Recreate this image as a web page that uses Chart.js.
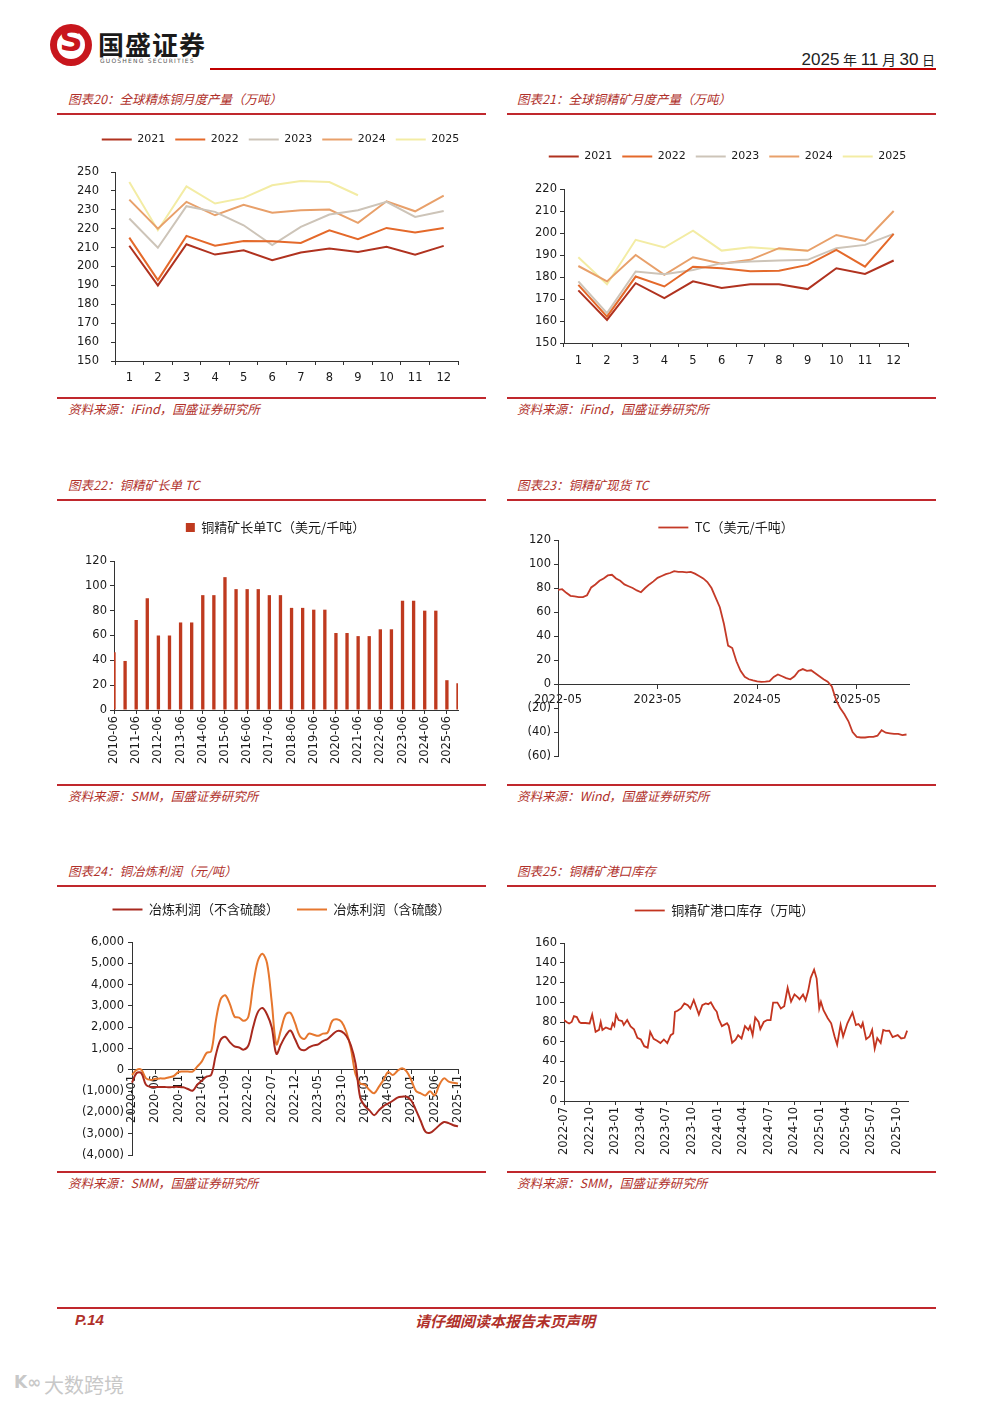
<!DOCTYPE html>
<html>
<head>
<meta charset="utf-8">
<script src="https://cdn.jsdelivr.net/npm/chart.js"></script>
<style>
  body { margin: 0; width: 992px; height: 1403px; position: relative; background: #fff; overflow: hidden; font-family: "Noto Sans CJK SC", sans-serif; }
  .abs { position: absolute; white-space: nowrap; }
  .title { font-style: italic; color: #b0302a; font-size: 12.5px; line-height: 17px; }
  .rule { position: absolute; height: 2px; background: #c0282d; }
  .box { position: absolute; }
</style>
</head>
<body>

<!-- header -->
<div class="abs" style="left:50px;top:24px;width:42px;height:42px;border-radius:50%;background:#c8161d;"></div>
<div class="abs" style="left:57px;top:31px;width:28px;height:28px;border-radius:50%;background:#fff;"></div>
<div class="abs" style="left:50px;top:21px;width:42px;text-align:center;font:bold 32px 'DejaVu Sans';color:#c8161d;">S</div>
<div class="abs" style="left:98px;top:27px;font-size:26px;font-weight:bold;color:#1a1a1a;letter-spacing:1px;line-height:34px;">国盛证券</div>
<div class="abs" style="left:100px;top:57px;font:6px 'DejaVu Sans';color:#555;letter-spacing:1.2px;">GUOSHENG SECURITIES</div>
<div class="abs" style="right:57px;top:47px;color:#222;line-height:22px;"><span style="font:17px 'Liberation Sans'">2025</span> <span style="font-size:14px">年</span> <span style="font:17px 'Liberation Sans'">11</span> <span style="font-size:14px">月</span> <span style="font:17px 'Liberation Sans'">30</span> <span style="font-size:13px">日</span></div>
<div class="rule" style="left:210px;top:68px;width:726px;background:#c00000;"></div>

<!-- row 1 -->
<div class="abs title" style="left:68px;top:90px;">图表20：全球精炼铜月度产量（万吨）</div>
<div class="abs title" style="left:517px;top:90px;">图表21：全球铜精矿月度产量（万吨）</div>
<div class="rule" style="left:57px;top:113px;width:429px;"></div>
<div class="rule" style="left:507px;top:113px;width:429px;"></div>
<div class="box" style="left:57px;top:124px;width:429px;height:268px;"><canvas id="c20"></canvas></div>
<div class="box" style="left:507px;top:141px;width:429px;height:234px;"><canvas id="c21"></canvas></div>
<div class="rule" style="left:57px;top:397px;width:429px;"></div>
<div class="rule" style="left:507px;top:397px;width:429px;"></div>
<div class="abs title" style="left:68px;top:400px;">资料来源：iFind，国盛证券研究所</div>
<div class="abs title" style="left:517px;top:400px;">资料来源：iFind，国盛证券研究所</div>

<!-- row 2 -->
<div class="abs title" style="left:68px;top:476px;">图表22：铜精矿长单 TC</div>
<div class="abs title" style="left:517px;top:476px;">图表23：铜精矿现货 TC</div>
<div class="rule" style="left:57px;top:499px;width:429px;"></div>
<div class="rule" style="left:507px;top:499px;width:429px;"></div>
<div class="box" style="left:57px;top:511px;width:429px;height:264px;"><canvas id="c22"></canvas></div>
<div class="box" style="left:507px;top:517px;width:429px;height:249px;"><canvas id="c23"></canvas></div>
<div class="rule" style="left:57px;top:784px;width:429px;"></div>
<div class="rule" style="left:507px;top:784px;width:429px;"></div>
<div class="abs title" style="left:68px;top:787px;">资料来源：SMM，国盛证券研究所</div>
<div class="abs title" style="left:517px;top:787px;">资料来源：Wind，国盛证券研究所</div>

<!-- row 3 -->
<div class="abs title" style="left:68px;top:862px;">图表24：铜冶炼利润（元/吨）</div>
<div class="abs title" style="left:517px;top:862px;">图表25：铜精矿港口库存</div>
<div class="rule" style="left:57px;top:885px;width:429px;"></div>
<div class="rule" style="left:507px;top:885px;width:429px;"></div>
<div class="box" style="left:57px;top:885px;width:429px;height:281px;"><canvas id="c24"></canvas></div>
<div class="box" style="left:507px;top:894px;width:429px;height:271px;"><canvas id="c25"></canvas></div>
<div class="rule" style="left:57px;top:1171px;width:429px;"></div>
<div class="rule" style="left:507px;top:1171px;width:429px;"></div>
<div class="abs title" style="left:68px;top:1174px;">资料来源：SMM，国盛证券研究所</div>
<div class="abs title" style="left:517px;top:1174px;">资料来源：SMM，国盛证券研究所</div>

<!-- footer -->
<div class="rule" style="left:57px;top:1307px;width:879px;"></div>
<div class="abs" style="left:75px;top:1311px;font:italic bold 15px 'Liberation Sans';color:#b0302a;">P.14</div>
<div class="abs" style="left:405px;top:1311px;width:200px;text-align:center;font-style:italic;font-weight:bold;font-size:15px;color:#b0302a;line-height:20px;">请仔细阅读本报告末页声明</div>
<div class="abs" style="left:14px;top:1372px;font:bold 17px 'DejaVu Sans';color:#c8c8c8;">K∞</div>
<div class="abs" style="left:44px;top:1370px;font-size:20px;color:#c8c8c8;">大数跨境</div>

<script>
// ---------- data ----------
const months = ['1', '2', '3', '4', '5', '6', '7', '8', '9', '10', '11', '12'];

// 图表20 全球精炼铜月度产量（万吨）
const refined2021 = [211, 190, 211.8, 206.3, 208.6, 203.3, 207.4, 209.5, 207.7, 210.4, 206.3, 210.9];
const refined2022 = [215.3, 192.8, 216.2, 211, 213.5, 213.4, 212.5, 219.2, 214.4, 220.4, 218, 220.4];
const refined2023 = [225.4, 209.9, 231.9, 228.9, 221.8, 211.3, 221, 227.5, 229.8, 234.2, 226.2, 229.4];
const refined2024 = [235.4, 220, 234.2, 227.1, 232.7, 228.5, 229.8, 230.1, 223.1, 234.5, 229.2, 237.5];
const refined2025 = [244.7, 219.2, 242.4, 233.3, 236.3, 243, 245.2, 244.7, 237.7, null, null, null];

// 图表21 全球铜精矿月度产量（万吨）
const conc2021 = [173.9, 160.5, 177.2, 170.4, 178, 175, 176.7, 176.7, 174.5, 184, 181.4, 187.5];
const conc2022 = [176.4, 162, 180.2, 175.7, 184.7, 184, 182.6, 182.8, 185.5, 192.3, 184.7, 199.6];
const conc2023 = [178, 163.6, 182.5, 181.3, 183.2, 186.3, 187, 187.5, 187.8, 193.1, 194.6, 199.6];
const conc2024 = [185, 178, 190, 181, 189, 186, 187.8, 193.1, 191.9, 199.1, 196.4, 210];
const conc2025 = [189, 176.7, 196.9, 193.4, 201.1, 192, 193.5, 192.6, 192, null, null, null];

// 图表22 铜精矿长单TC（美元/千吨）
const longTermDates = ['2010-06', '2010-12', '2011-06', '2011-12', '2012-06', '2012-12', '2013-06', '2013-12',
  '2014-06', '2014-12', '2015-06', '2015-12', '2016-06', '2016-12', '2017-06', '2017-12',
  '2018-06', '2018-12', '2019-06', '2019-12', '2020-06', '2020-12', '2021-06', '2021-12',
  '2022-06', '2022-12', '2023-06', '2023-12', '2024-06', '2024-12', '2025-06', '2025-12'];
const longTermTC = [46.5, 39.5, 72.5, 90, 60, 60, 70.5, 70.5, 92.5, 92.5, 107, 97.35, 97.35, 97.35, 92.5, 92.5,
  82.25, 82.25, 80.8, 80.8, 62, 62, 59.5, 59.5, 65, 65, 88, 88, 80, 80, 24, 21.5];

// 图表23 铜精矿现货TC（美元/千吨），半月一点，自2022-05起
const spotStart = '2022-05';
const spotTC = [
  78.5, 79, 76, 73.5, 73, 72.5, 72.5, 74,
  80.5, 83, 86, 88, 90.5, 91, 88, 86,
  83, 81.5, 80, 78, 76.5, 80, 83, 85.5,
  88.5, 90, 91.5, 92.5, 94, 93.5, 93.5, 93,
  93.5, 92, 90, 88, 85, 80, 72, 64,
  50, 32, 30, 19, 11, 6, 4, 3,
  2.2, 1.8, 2, 2.5, 6, 8, 6.5, 5,
  4, 6.5, 11, 12.5, 11, 11.5, 9, 6.5,
  4, 2, -2, -13, -20, -25, -31, -40,
  -44, -44.5, -44.5, -44, -44, -43, -38.5, -40.5,
  -41, -41.5, -41.5, -42.5, -42];
const spotTicks = ['2022-05', '2023-05', '2024-05', '2025-05'];

// 图表24 铜冶炼利润（元/吨），月度 2020-01 起
const profitStart = '2020-01';
const profitNoAcid = [
  -600, -150, -150, -700, -800, -800, -800, -800, -820, -800, -800, -820,
  -900, -980, -700, -500, -320, -240, 700, 1400, 1550, 1300, 1100, 1050,
  950, 1150, 2000, 2700, 2900, 2600, 2000, 750, 1200, 1600, 1850, 1450,
  1000, 920, 1050, 1150, 1200, 1350, 1450, 1650, 1820, 1800, 1600, 1150,
  300, -1300, -1700, -1900, -2130, -1900, -1700, -1580, -1450, -1300, -1260, -1260,
  -1450, -1900, -2400, -2900, -2950, -2800, -2600, -2450, -2500, -2600, -2650];
const profitAcid = [
  -240, 0, 0, -400, -470, -420, -400, -400, -350, -280, -100, -80,
  -80, -80, 150, 400, 790, 870, 2300, 3300, 3500, 3100, 2500, 2450,
  2300, 2500, 3950, 5100, 5450, 5000, 3200, 1200, 1900, 2600, 2680, 2200,
  1600, 1450, 1700, 1650, 1600, 1700, 1750, 2300, 2370, 2250, 1800, 1000,
  -200, -630, -700, -950, -1100, -800, -470, -100, -240, -50, 80, -80,
  -500, -1000, -1100, -1200, -1000, -1200, -700, -400, -550, -600, -640];

// 图表25 铜精矿港口库存（万吨）
const stockDates = ['2022-07-01', '2022-07-10', '2022-07-19', '2022-07-28', '2022-08-06', '2022-08-16', '2022-08-25',
  '2022-09-01', '2022-09-16', '2022-10-01', '2022-10-10', '2022-10-22', '2022-11-04', '2022-11-10', '2022-11-16',
  '2022-11-28', '2022-12-10', '2022-12-16', '2022-12-22', '2022-12-28',
  '2023-01-04', '2023-01-13', '2023-01-25', '2023-02-01', '2023-02-13', '2023-02-25', '2023-03-07', '2023-03-19',
  '2023-04-01', '2023-04-13', '2023-04-25', '2023-05-04', '2023-05-16', '2023-05-28', '2023-06-10', '2023-06-22',
  '2023-07-04', '2023-07-16', '2023-07-25', '2023-08-01', '2023-08-10', '2023-08-22', '2023-09-04', '2023-09-16',
  '2023-09-25', '2023-10-07', '2023-10-25', '2023-11-07', '2023-11-19', '2023-11-28', '2023-12-07', '2023-12-19',
  '2023-12-28',
  '2024-01-04', '2024-01-16', '2024-02-04', '2024-02-10', '2024-02-22', '2024-03-04', '2024-03-13', '2024-03-25',
  '2024-04-07', '2024-04-19', '2024-04-25', '2024-05-04', '2024-05-13', '2024-05-25', '2024-06-01', '2024-06-13',
  '2024-06-25', '2024-07-07', '2024-07-16', '2024-08-01', '2024-08-13', '2024-08-25', '2024-09-07', '2024-09-19',
  '2024-10-01', '2024-10-13', '2024-10-19', '2024-11-01', '2024-11-10', '2024-11-19', '2024-11-28', '2024-12-10',
  '2024-12-19', '2024-12-28',
  '2025-01-04', '2025-01-13', '2025-01-28', '2025-02-10', '2025-02-22', '2025-03-01', '2025-03-13', '2025-03-22',
  '2025-04-07', '2025-04-25', '2025-05-07', '2025-05-16', '2025-05-25', '2025-06-01', '2025-06-13', '2025-06-25',
  '2025-07-04', '2025-07-13', '2025-07-22', '2025-08-04', '2025-08-13', '2025-08-22', '2025-09-04', '2025-09-16',
  '2025-10-04', '2025-10-16', '2025-10-28', '2025-11-07'];
const stockValues = [82, 80, 78.5, 80, 86, 85, 80, 79, 79, 78.5, 87.5, 70, 72, 80, 72, 74.5, 73, 72.5, 78.7, 76,
  87.5, 82, 81, 77, 82, 75.5, 72.5, 64, 62.3, 55.5, 54, 70, 63, 61, 58.7, 62.3, 58.7, 66.7, 68.4, 90.3,
  91.4, 93.7, 98.8, 97, 93.7, 102.3, 87.5, 97, 98.8, 98, 100, 93.7, 90.3,
  83.5, 75.8, 78.7, 76, 59, 62, 66.7, 63.3, 75.8, 72, 76, 66.7, 84.6, 80, 72.8, 80, 82, 82, 99.6, 99.6,
  93.7, 96, 114.7, 100.6, 108, 105, 103, 107.9, 102, 111.3, 124.7, 133, 124, 93.7,
  100.4, 92, 83.8, 78.7, 65.3, 57, 77, 65.3, 78.7, 89.5, 77, 78, 74.5, 79, 62.6, 65.3, 72, 53, 63.7,
  58.7, 72, 71, 71.3, 64.6, 66.7, 63.3, 64, 71.3];

// ---------- helpers ----------
const TICK = { family: 'DejaVu Sans', size: 11.5 };
const LEG_NUM = { family: 'DejaVu Sans', size: 11 };
const LEG_CJK = { family: 'Noto Sans CJK SC', size: 13 };
const AXIS = '#333';
const TXT = '#1a1a1a';

Chart.defaults.animation = false;
Chart.defaults.maintainAspectRatio = false;
Chart.defaults.plugins.tooltip.enabled = false;
Chart.defaults.elements.point.radius = 0;

// months since a 'YYYY-MM' base, for a 'YYYY-MM-DD' date
function monthsFrom(base, date) {
  const [by, bm] = base.split('-').map(Number);
  const [y, m, d] = date.split('-').map(Number);
  return (y - by) * 12 + (m - bm) + (d - 1) / 30;
}
function monthLabel(base, offset) {
  const [by, bm] = base.split('-').map(Number);
  const t = by * 12 + (bm - 1) + Math.round(offset);
  return Math.floor(t / 12) + '-' + String(t % 12 + 1).padStart(2, '0');
}
function monthSeq(base, n) {
  const out = [];
  for (let i = 0; i < n; i++) out.push(monthLabel(base, i));
  return out;
}
function halfMonthSeq(base, n) {
  const out = [];
  for (let i = 0; i < n; i++) out.push(monthLabel(base, Math.floor(i / 2)) + (i % 2 ? '-16' : '-01'));
  return out;
}
function paren(v) {
  const s = Math.abs(v).toLocaleString('en-US');
  return v < 0 ? '(' + s + ')' : s;
}

// extra room below the legend, and a sideways nudge of the legend
function legendSpace(extra, dx) {
  return {
    id: 'legendSpace',
    beforeInit(chart) {
      const fit = chart.legend.fit;
      chart.legend.fit = function () {
        fit.bind(chart.legend)();
        this.height += extra;
      };
    },
    afterLayout(chart) {
      chart.legend.left += dx;
      chart.legend.right += dx;
    }
  };
}

function yAxis(min, max, step, width, pad, fmt) {
  return {
    min: min, max: max,
    ticks: { stepSize: step, font: TICK, color: TXT, padding: pad, callback: fmt || (v => v) },
    grid: { drawOnChartArea: false, tickLength: 4, color: AXIS },
    border: { color: AXIS },
    afterFit: s => { s.width = width; }
  };
}

function lineLegend(font, pad) {
  return {
    labels: { usePointStyle: true, pointStyle: 'line', pointStyleWidth: 30, font: font, color: TXT, padding: pad }
  };
}

function line(label, data, color, w) {
  return { label: label, data: data, borderColor: color, backgroundColor: color, borderWidth: w || 2, tension: 0, spanGaps: false };
}

const C21 = '#b0321f', C22 = '#e4692a', C23 = '#cdc4b8', C24 = '#e8a06a', C25 = '#f3eca4';

// ---------- 图表20 ----------
new Chart(document.getElementById('c20'), {
  type: 'line',
  data: {
    labels: months,
    datasets: [
      line('2021', refined2021, C21), line('2022', refined2022, C22), line('2023', refined2023, C23),
      line('2024', refined2024, C24), line('2025', refined2025, C25)
    ]
  },
  options: {
    layout: { padding: { right: 28 } },
    plugins: { legend: lineLegend(LEG_NUM, 10) },
    scales: {
      x: {
        offset: true,
        ticks: { font: TICK, color: TXT, padding: 6, maxRotation: 0 },
        grid: { offset: true, drawOnChartArea: false, tickLength: 4, color: AXIS },
        border: { color: AXIS },
        afterFit: s => { s.height = 31; }
      },
      y: yAxis(150, 250, 10, 58, 12)
    }
  },
  plugins: [legendSpace(17, 23)]
});

// ---------- 图表21 ----------
new Chart(document.getElementById('c21'), {
  type: 'line',
  data: {
    labels: months,
    datasets: [
      line('2021', conc2021, C21), line('2022', conc2022, C22), line('2023', conc2023, C23),
      line('2024', conc2024, C24), line('2025', conc2025, C25)
    ]
  },
  options: {
    layout: { padding: { right: 28 } },
    plugins: { legend: lineLegend(LEG_NUM, 10) },
    scales: {
      x: {
        offset: true,
        ticks: { font: TICK, color: TXT, padding: 7, maxRotation: 0 },
        grid: { offset: true, drawOnChartArea: false, tickLength: 4, color: AXIS },
        border: { color: AXIS },
        afterFit: s => { s.height = 32; }
      },
      y: yAxis(150, 220, 10, 57, 3)
    }
  },
  plugins: [legendSpace(17, 20)]
});

// ---------- 图表22 ----------
new Chart(document.getElementById('c22'), {
  type: 'bar',
  data: {
    labels: longTermDates,
    datasets: [{
      label: '铜精矿长单TC（美元/千吨）',
      data: longTermTC,
      backgroundColor: '#bf3a1f',
      borderWidth: 0,
      barPercentage: 0.3,
      categoryPercentage: 1
    }]
  },
  options: {
    layout: { padding: { right: 28 } },
    plugins: { legend: { labels: { boxWidth: 9, boxHeight: 9, font: LEG_CJK, color: TXT, padding: 10 } } },
    scales: {
      x: {
        offset: false,
        ticks: {
          font: TICK, color: TXT, padding: 2, autoSkip: false, minRotation: 90, maxRotation: 90,
          callback: (v, i) => (i % 2 === 0 ? longTermDates[i] : '')
        },
        grid: {
          offset: false, drawOnChartArea: false, tickLength: 4,
          tickColor: ctx => (ctx.index % 2 === 0 ? AXIS : 'rgba(0,0,0,0)')
        },
        border: { color: AXIS },
        afterFit: s => { s.height = 65; }
      },
      y: yAxis(0, 120, 20, 57, 3)
    }
  },
  plugins: [legendSpace(17, 18)]
});

// ---------- 图表23 ----------
const spotDates = halfMonthSeq(spotStart, spotTC.length);
new Chart(document.getElementById('c23'), {
  type: 'line',
  data: {
    datasets: [{
      label: 'TC（美元/千吨）',
      data: spotTC.map((v, i) => ({ x: monthsFrom(spotStart, spotDates[i]), y: v })),
      borderColor: '#c43a28', backgroundColor: '#c43a28', borderWidth: 1.8, tension: 0
    }]
  },
  options: {
    layout: { padding: { right: 27 } },
    plugins: { legend: lineLegend(LEG_CJK, 4) },
    scales: {
      x: {
        type: 'linear', position: { y: 0 }, min: 0, max: 42.3,
        ticks: {
          stepSize: 12, includeBounds: false, font: TICK, color: TXT, padding: 5, maxRotation: 0,
          callback: v => (spotTicks.includes(monthLabel(spotStart, v)) ? monthLabel(spotStart, v) : '')
        },
        grid: { drawOnChartArea: false, tickLength: 4, color: AXIS },
        border: { color: AXIS }
      },
      y: yAxis(-60, 120, 20, 51, 3, v => (v < 0 ? '(' + (-v) + ')' : v))
    }
  },
  plugins: [legendSpace(-4, 18)]
});

// ---------- 图表24 ----------
const profitMonths = monthSeq(profitStart, profitAcid.length);
new Chart(document.getElementById('c24'), {
  type: 'line',
  data: {
    labels: profitMonths,
    datasets: [
      { label: '冶炼利润（不含硫酸）', data: profitNoAcid, borderColor: '#a8291e', backgroundColor: '#a8291e', borderWidth: 2, tension: 0.35 },
      { label: '冶炼利润（含硫酸）', data: profitAcid, borderColor: '#e6772e', backgroundColor: '#e6772e', borderWidth: 2, tension: 0.35 }
    ]
  },
  options: {
    layout: { padding: { right: 28 } },
    plugins: { legend: lineLegend(LEG_CJK, 18) },
    scales: {
      x: {
        position: { y: 0 }, offset: false,
        ticks: {
          font: TICK, color: TXT, padding: 1, autoSkip: false, minRotation: 90, maxRotation: 90,
          callback: (v, i) => (i % 5 === 0 ? profitMonths[i] : '')
        },
        grid: {
          drawOnChartArea: false, tickLength: 4,
          tickColor: ctx => (ctx.index % 5 === 0 ? AXIS : 'rgba(0,0,0,0)')
        },
        border: { color: AXIS }
      },
      y: yAxis(-4000, 6000, 1000, 75, 4, paren)
    }
  },
  plugins: [legendSpace(16, 24)]
});

// ---------- 图表25 ----------
const stockStart = '2022-07';
new Chart(document.getElementById('c25'), {
  type: 'line',
  data: {
    datasets: [{
      label: '铜精矿港口库存（万吨）',
      data: stockValues.map((v, i) => ({ x: monthsFrom(stockStart, stockDates[i]), y: v })),
      borderColor: '#c3341f', backgroundColor: '#c3341f', borderWidth: 1.8, tension: 0
    }]
  },
  options: {
    layout: { padding: { right: 28 } },
    plugins: { legend: lineLegend(LEG_CJK, 10) },
    scales: {
      x: {
        type: 'linear', min: 0, max: 40.3,
        ticks: {
          stepSize: 3, includeBounds: false, autoSkip: false, maxTicksLimit: 30,
          font: TICK, color: TXT, padding: 2, minRotation: 90, maxRotation: 90,
          callback: v => monthLabel(stockStart, v)
        },
        grid: { drawOnChartArea: false, tickLength: 4, color: AXIS },
        border: { color: AXIS },
        afterFit: s => { s.height = 64; }
      },
      y: yAxis(0, 160, 20, 57, 3)
    }
  },
  plugins: [legendSpace(16, 17)]
});
</script>
</body>
</html>
